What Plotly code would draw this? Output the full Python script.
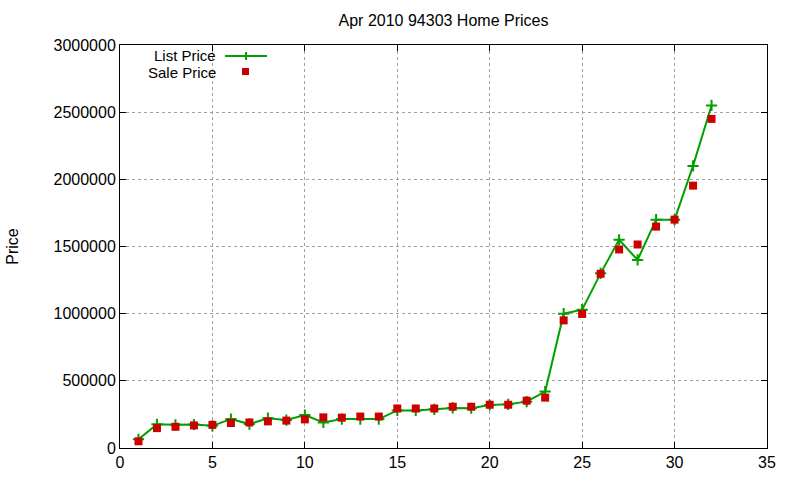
import plotly.graph_objects as go

idx = list(range(1, 33))
list_price = [65000, 176000, 173000, 175000, 165000, 215000, 178000, 222000, 208000, 245000,
              190000, 215000, 215000, 215000, 280000, 280000, 288000, 298000, 296000, 320000,
              325000, 345000, 420000, 1000000, 1030000, 1300000, 1550000, 1400000, 1700000, 1700000,
              2100000, 2550000]
sale_price = [50000, 148000, 158000, 168000, 172000, 186000, 190000, 198000, 204000, 213000,
              228000, 226000, 234000, 234000, 294000, 294000, 294000, 307000, 307000, 322000,
              322000, 352000, 375000, 950000, 998000, 1297000, 1478000, 1515000, 1648000, 1700000,
              1953000, 2450000]

GREEN = "#00a000"
RED = "#cc0000"
FONT = "Liberation Sans, Arial, sans-serif"

fig = go.Figure()
fig.add_trace(go.Scatter(x=idx, y=list_price, mode="lines+markers", name="List Price",
                         line=dict(color=GREEN, width=2),
                         marker=dict(symbol="cross-thin", size=8, line=dict(color=GREEN, width=2), color=GREEN)))
fig.add_trace(go.Scatter(x=idx, y=sale_price, mode="markers", name="Sale Price",
                         marker=dict(symbol="square", size=8, color=RED)))

W, H = 800, 480
L, R, T, B = 120, 33, 45, 32
pw, ph = W - L - R, H - T - B

def px(x):
    return (x - L) / pw

def py(y):
    return 1 - (y - T) / ph

fig.add_annotation(x=px(218), y=py(55), xref="paper", yref="paper", text="List Price",
                   showarrow=False, xanchor="right", yanchor="middle",
                   font=dict(family=FONT, size=15, color="#000"))
fig.add_annotation(x=px(218), y=py(72.5), xref="paper", yref="paper", text="Sale Price",
                   showarrow=False, xanchor="right", yanchor="middle",
                   font=dict(family=FONT, size=15, color="#000"))
fig.add_shape(type="line", xref="paper", yref="paper", x0=px(225), x1=px(267), y0=py(56), y1=py(56),
              line=dict(color=GREEN, width=2))
fig.add_shape(type="line", xref="paper", yref="paper", x0=px(246), x1=px(246), y0=py(52), y1=py(60),
              line=dict(color=GREEN, width=2))
fig.add_shape(type="rect", xref="paper", yref="paper", x0=px(242), x1=px(249), y0=py(68), y1=py(75),
              line=dict(width=0), fillcolor=RED)

axis_common = dict(showline=True, linecolor="black", linewidth=1, mirror="ticks",
                   ticks="inside", ticklen=6, tickcolor="black", automargin=False,
                   showgrid=True, gridcolor="#a0a0a0", griddash="dot", gridwidth=1,
                   zeroline=False, tickfont=dict(family=FONT, size=16, color="#000"))

fig.update_layout(
    width=W, height=H,
    margin=dict(l=L, r=R, t=T, b=B),
    paper_bgcolor="white", plot_bgcolor="white",
    showlegend=False,
    title=dict(text="Apr 2010 94303 Home Prices", x=(L + pw / 2) / W, xanchor="center",
               y=1 - 20 / H, yanchor="middle", font=dict(family=FONT, size=16, color="#000")),
    xaxis=dict(range=[0, 35], tickvals=[0, 5, 10, 15, 20, 25, 30, 35], **axis_common),
    yaxis=dict(range=[0, 3000000], tickvals=[0, 500000, 1000000, 1500000, 2000000, 2500000, 3000000],
               tickformat="d", title=dict(text="Price", font=dict(family=FONT, size=16, color="#000"), standoff=30),
               **axis_common),
)

fig.write_html("out.html")
